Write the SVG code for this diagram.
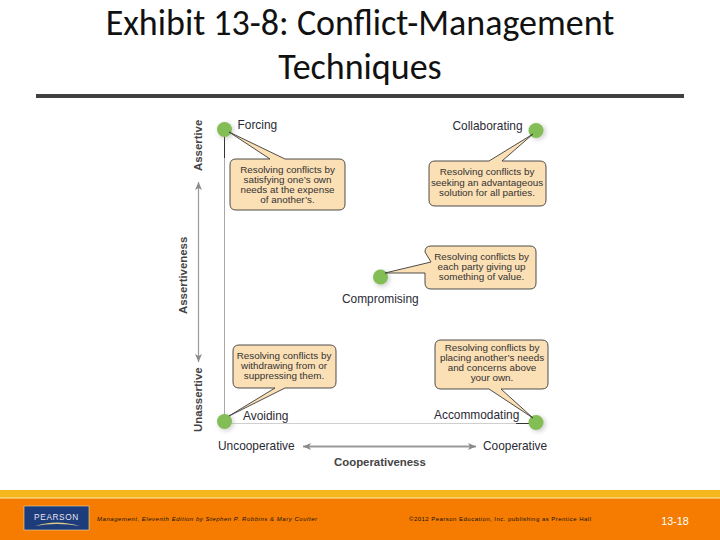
<svg xmlns="http://www.w3.org/2000/svg" width="720" height="540" viewBox="0 0 720 540">
<style>
.t{font-family:"Liberation Sans",Arial,sans-serif;fill:#2a2a35}
.title{font-family:Carlito,"Open Sans","Liberation Sans",sans-serif;font-size:36px;fill:#111;text-anchor:middle}
.lab{font-size:11.900px}
.b{font-weight:bold;font-size:11.400px;fill:#444}
.c{font-size:9.850px;text-anchor:middle;fill:#333}
.box{fill:#fbdfb5;stroke:#3a3a3a;stroke-width:.9}
.dot{fill:#83bd55}
.halo{fill:#888;opacity:.35;filter:url(#blur)}
.axis{stroke:#9a9a9a;fill:none}
.foot{font-family:"Liberation Sans",Arial,sans-serif;font-size:6px;fill:#111}
</style>
<defs>
<filter id="blur" x="-50%" y="-50%" width="200%" height="200%"><feGaussianBlur stdDeviation="2.2"/></filter>
<marker id="ah" markerWidth="9" markerHeight="7" refX="8" refY="3.500" orient="auto" markerUnits="userSpaceOnUse"><path d="M0 0L8 3.500L0 7L2 3.500Z" fill="#8a8a8a"/></marker>
</defs>
<rect width="720" height="540" fill="#fff"/>
<g id="title">
<text class="title" x="360" y="35">Exhibit 13-8: Conflict-Management</text>
<text class="title" x="360" y="79">Techniques</text>
<rect x="36" y="94" width="648" height="4" fill="#404040"/>
</g>
<g id="connectors">
<path d="M224.500 130V421" stroke="#a8a8a8" stroke-width="1" fill="none"/>
<path d="M224 423.500H536" stroke="#cfcfcf" stroke-width="1" fill="none"/>
<path d="M224.500 130V158" stroke="#333" stroke-width="1"/>
<path d="M516 423.500H536" stroke="#333" stroke-width="1"/>
<path class="axis" d="M198.500 270V182" marker-end="url(#ah)" stroke-width="1.200"/>
<path class="axis" d="M198.500 270V362" marker-end="url(#ah)" stroke-width="1.200"/>
<path class="axis" d="M380 446.500H303" marker-end="url(#ah)" stroke-width="2"/>
<path class="axis" d="M380 446.500H476" marker-end="url(#ah)" stroke-width="2"/>
</g>
<g id="forcing">
<circle class="halo" cx="226" cy="131" r="8"/><circle class="dot" cx="224.500" cy="129.500" r="7.500"/>
<text class="t lab" x="237.500" y="129">Forcing</text>
<path class="box" d="M236 159H270L229 132L285 159H339Q345 159 345 165V204Q345 210 339 210H236Q230 210 230 204V165Q230 159 236 159Z"/>
<text class="t c" x="287.500" y="172.500">Resolving conflicts by</text>
<text class="t c" x="287.500" y="182.500">satisfying one’s own</text>
<text class="t c" x="287.500" y="192.500">needs at the expense</text>
<text class="t c" x="287.500" y="202.500">of another’s.</text>
</g>
<g id="collaborating">
<circle class="halo" cx="538" cy="132" r="8"/><circle class="dot" cx="536" cy="130.500" r="7.500"/>
<text class="t lab" x="452.500" y="130">Collaborating</text>
<path class="box" d="M435 161H489L533 134L502 161H540Q546 161 546 167V200Q546 206 540 206H435Q429 206 429 200V167Q429 161 435 161Z"/>
<text class="t c" x="487" y="175">Resolving conflicts by</text>
<text class="t c" x="487" y="185.500">seeking an advantageous</text>
<text class="t c" x="487" y="196">solution for all parties.</text>
</g>
<g id="compromising">
<circle class="halo" cx="382" cy="279" r="8"/><circle class="dot" cx="380.500" cy="277" r="7.500"/>
<text class="t lab" x="342" y="302.500">Compromising</text>
<path class="box" d="M431 262L385 273H425V283Q425 289 431 289H530Q536 289 536 283V252Q536 246 530 246H431Q425 246 425 252Z"/>
<text class="t c" x="481.500" y="260">Resolving conflicts by</text>
<text class="t c" x="481.500" y="270">each party giving up</text>
<text class="t c" x="481.500" y="279.500">something of value.</text>
</g>
<g id="avoiding">
<circle class="halo" cx="226" cy="423" r="8"/><circle class="dot" cx="224.500" cy="421.500" r="7.500"/>
<text class="t lab" x="243" y="420">Avoiding</text>
<path class="box" d="M239 345H330Q336 345 336 351V382Q336 388 330 388H285L229 416L275 388H239Q233 388 233 382V351Q233 345 239 345Z"/>
<text class="t c" x="284" y="358.500">Resolving conflicts by</text>
<text class="t c" x="284" y="368.500">withdrawing from or</text>
<text class="t c" x="284" y="379">suppressing them.</text>
</g>
<g id="accommodating">
<circle class="halo" cx="538" cy="424" r="8"/><circle class="dot" cx="536" cy="422.500" r="7.500"/>
<text class="t lab" x="434" y="419">Accommodating</text>
<path class="box" d="M441 340H542Q548 340 548 346V383Q548 389 542 389H501L533 418L489 389H441Q435 389 435 383V346Q435 340 441 340Z"/>
<text class="t c" x="492" y="351">Resolving conflicts by</text>
<text class="t c" x="492" y="361">placing another’s needs</text>
<text class="t c" x="492" y="371">and concerns above</text>
<text class="t c" x="492" y="381">your own.</text>
</g>
<g id="axis-labels">
<text class="t b" transform="translate(202,171) rotate(-90)">Assertive</text>
<text class="t b" transform="translate(187,314) rotate(-90)">Assertiveness</text>
<text class="t b" transform="translate(202,432) rotate(-90)">Unassertive</text>
<text class="t lab" x="218" y="450">Uncooperative</text>
<text class="t lab" x="483" y="450">Cooperative</text>
<text class="t b" x="334" y="466">Cooperativeness</text>
</g>
<g id="footer">
<rect y="490" width="720" height="8" fill="#f5b81c"/>
<rect y="498" width="720" height="42" fill="#f57c00"/>
<rect y="497.500" width="720" height="1" fill="#fde9b0"/>
<rect x="24" y="506" width="65" height="24" fill="#1d3c7c" stroke="#e8d9a0" stroke-width=".6"/>
<text x="56.500" y="520" font-family="Liberation Sans,sans-serif" font-size="8.300" letter-spacing=".6" fill="#e6e6f0" text-anchor="middle">PEARSON</text>
<path d="M35 526Q56 519 80 526Q56 522 35 526Z" fill="#d9c98a"/>
<text class="foot" x="97" y="521" textLength="220" lengthAdjust="spacing" font-style="italic">Management, Eleventh Edition by Stephen P. Robbins &amp; Mary Coulter</text>
<text class="foot" x="409" y="520.500" textLength="182" lengthAdjust="spacing">©2012 Pearson Education, Inc. publishing as Prentice Hall</text>
<text x="675" y="524.500" font-family="Liberation Sans,sans-serif" font-size="10.800" fill="#fff" text-anchor="middle">13-18</text>
</g>
</svg>
